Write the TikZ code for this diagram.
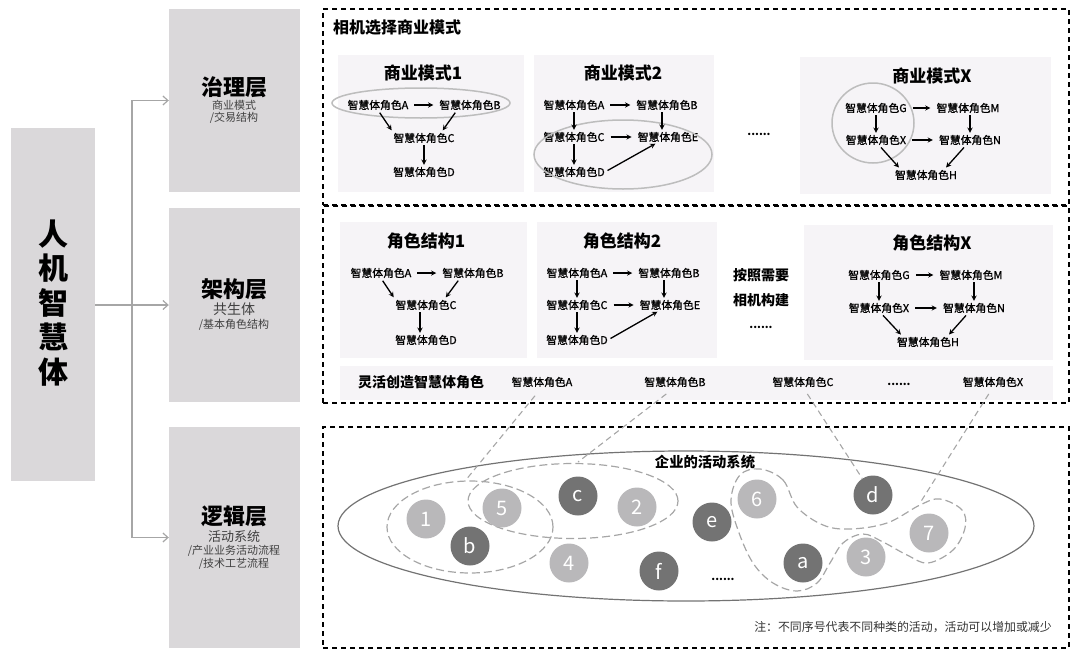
\documentclass[tikz,border=0pt]{standalone}
\usepackage{fontspec}
\setmainfont{Noto Sans CJK SC}
\newfontfamily\rolefont[FakeBold=1]{Noto Sans CJK SC}
\usetikzlibrary{arrows.meta,positioning,shapes.geometric,backgrounds}
\definecolor{panelbg}{HTML}{F6F4F7}
\definecolor{layerbg}{HTML}{DAD8DA}
\definecolor{lightdot}{HTML}{B9B8BA}
\definecolor{darkdot}{HTML}{737373}
\definecolor{lineg}{HTML}{A6A6A6}
\definecolor{ringg}{HTML}{BDBDBD}
\tikzset{
  panel/.style={fill=panelbg,inner sep=0pt},
  layerbox/.style={fill=layerbg,inner sep=0pt},
  frame/.style={draw=black,line width=1.2pt,dash pattern=on 5pt off 4pt,inner sep=0pt},
  role/.style={inner sep=0pt,font=\rolefont\fontsize{10.8}{13}\selectfont},
  strongrole/.style={inner sep=0pt,font=\bfseries\fontsize{14}{16}\selectfont},
  headline/.style={inner sep=0pt,font=\bfseries\fontsize{17}{19}\selectfont},
  layername/.style={inner sep=0pt,font=\bfseries\fontsize{22}{24}\selectfont},
  layersub/.style={inner sep=0pt,text=black!75,font=\fontsize{13}{15}\selectfont},
  layernote/.style={inner sep=0pt,text=black!75,font=\fontsize{11}{13}\selectfont},
  ring/.style={ellipse,draw=ringg,line width=1.5pt,inner sep=0pt},
  dashring/.style={ellipse,draw=lineg,line width=1.2pt,dash pattern=on 8pt off 4pt,inner sep=0pt},
  lightball/.style={circle,fill=lightdot,text=white,minimum size=39pt,inner sep=0pt,font=\fontsize{20}{22}\selectfont},
  darkball/.style={circle,fill=darkdot,text=white,minimum size=39pt,inner sep=0pt,font=\fontsize{20}{22}\selectfont},
  hop/.style={-stealth,line width=1.3pt,shorten <=6pt,shorten >=6pt},
  vhop/.style={-stealth,line width=1.3pt,shorten <=2pt,shorten >=2pt},
  slant/.style={-stealth,line width=1.3pt,shorten <=3pt,shorten >=3pt},
  branch/.style={draw=lineg,line width=1.2pt,-{Straight Barb[length=5pt,width=9pt]}},
  tie/.style={draw=lineg,line width=1.1pt,dash pattern=on 6pt off 4pt}
}
\begin{document}
\begin{tikzpicture}[x=1pt,y=-1pt,on grid]
  \useasboundingbox (0,0) rectangle (1080,659);
  % left column
  \node[layerbox,minimum width=84pt,minimum height=353pt] (brain) at (53,304.5) {};
  \node[layerbox,minimum width=131pt,minimum height=183pt] (govern) at (234.5,100.5) {};
  \node[layerbox,minimum width=131pt,minimum height=194pt] (frameL) at (234.5,305) {};
  \node[layerbox,minimum width=131pt,minimum height=221pt] (logic) at (234.5,537.5) {};
  \node[inner sep=0pt,align=center,font=\bfseries\fontsize{30}{34.5}\selectfont] (braintext) at (53,303) {人\\机\\智\\慧\\体};
  \coordinate (fork) at (132,305);
  \draw[branch] (brain.east |- fork) -- (fork -| frameL.west);
  \draw[branch] (fork) |- (govern.west);
  \draw[branch] (fork) |- (logic.west);
  \node[layername] (govname) at (234,87) {治理层};
  \node[layernote] (govsub) [below=18pt of govname] {商业模式};
  \node[layernote] (govnote) [below=13pt of govsub] {/交易结构};
  \node[layername] (framename) at (234,289) {架构层};
  \node[layersub,font=\fontsize{14}{16}\selectfont] (framesub) [below=20pt of framename] {共生体};
  \node[layernote] (framenote) [below=16pt of framesub] {/基本角色结构};
  \node[layername] (logicname) at (234,516) {逻辑层};
  \node[layersub] (logicsub) [below=21pt of logicname] {活动系统};
  \node[layernote] (logicnote) [below=14pt of logicsub] {/产业业务活动流程};
  \node[layernote] (logictech) [below=13pt of logicnote] {/技术工艺流程};
  % dashed frames
  \node[frame,minimum width=746pt,minimum height=196pt] (topframe) at (696,107) {};
  \node[frame,minimum width=746pt,minimum height=197pt] (midframe) at (696,304.5) {};
  \node[frame,minimum width=746pt,minimum height=221pt] (lowframe) at (696,537.5) {};
  \node[inner sep=0pt,font=\bfseries\fontsize{16}{18}\selectfont] (toptitle) at (397,27) {相机选择商业模式};
  % panels
  \begin{scope}[on background layer]
    \node[panel,minimum width=186pt,minimum height=137pt] (pm1) at (431,123.5) {};
    \node[panel,minimum width=180pt,minimum height=137pt] (pm2) at (624,123.5) {};
    \node[panel,minimum width=251pt,minimum height=137pt] (pmx) at (925.5,125.5) {};
    \node[panel,minimum width=187pt,minimum height=136pt] (ps1) at (433.5,290) {};
    \node[panel,minimum width=180pt,minimum height=136pt] (ps2) at (627,290) {};
    \node[panel,minimum width=249pt,minimum height=135pt] (psx) at (928.5,292.5) {};
    \node[panel,minimum width=713pt,minimum height=34pt] (prow) at (696.5,383) {};
  \end{scope}
  % business model 1
  \node[headline] (m1t) at (423,73) {商业模式1};
  \node[role] (m1a) at (378,105) {智慧体角色A};
  \node[role] (m1b) [right=92pt of m1a] {智慧体角色B};
  \node[role] (m1c) at (424,138) {智慧体角色C};
  \node[role] (m1d) [below=34pt of m1c] {智慧体角色D};
  \node[ring,minimum width=178pt,minimum height=30pt] (m1ring) at (421,103) {};
  \path (m1a) edge[hop] (m1b)
        (m1a.south) edge[slant] (m1c.north west)
        ([xshift=-13pt]m1b.south) edge[slant] ([xshift=17pt]m1c.north)
        (m1c) edge[vhop] (m1d);
  % business model 2
  \node[headline] (m2t) at (623,73) {商业模式2};
  \node[role] (m2a) at (574,105) {智慧体角色A};
  \node[role] (m2b) [right=93pt of m2a] {智慧体角色B};
  \node[role] (m2c) [below=32pt of m2a] {智慧体角色C};
  \node[role] (m2e) [right=94pt of m2c] {智慧体角色E};
  \node[role] (m2d) [below=35pt of m2c] {智慧体角色D};
  \node[ring,minimum width=178pt,minimum height=69pt] (m2ring) at (623,154.5) {};
  \path (m2a) edge[hop] (m2b)
        (m2c) edge[hop] (m2e)
        (m2a) edge[vhop] (m2c)
        (m2c) edge[vhop] (m2d)
        ([xshift=-5pt]m2b.south) edge[vhop] ([xshift=-6pt]m2e.north)
        (m2d.east) edge[slant] ([xshift=-10pt]m2e.south);
  % business model X
  \node[headline] (mxt) at (932,76) {商业模式X};
  \node[role] (mxg) at (876,108) {智慧体角色G};
  \node[role] (mxm) [right=92pt of mxg] {智慧体角色M};
  \node[role] (mxx) [below=32pt of mxg] {智慧体角色X};
  \node[role] (mxn) [right=94pt of mxx] {智慧体角色N};
  \node[role] (mxh) at (926,175) {智慧体角色H};
  \node[ring,minimum width=82pt,minimum height=80pt] (mxring) at (873,123) {};
  \path (mxg) edge[hop] (mxm)
        (mxx) edge[hop] (mxn)
        (mxg) edge[vhop] (mxx)
        ([xshift=2pt]mxm.south) edge[vhop] (mxn.north)
        ([xshift=3pt]mxx.south) edge[slant] ([xshift=-25pt]mxh.north)
        ([xshift=-4pt]mxn.south) edge[slant] ([xshift=18pt]mxh.north);
  \node[inner sep=0pt,font=\bfseries\fontsize{11}{13}\selectfont] (mdots) at (759,134) {......};
  % role structure 1
  \node[headline] (s1t) at (426,241) {角色结构1};
  \node[role] (s1a) at (381,273) {智慧体角色A};
  \node[role] (s1b) [right=92pt of s1a] {智慧体角色B};
  \node[role] (s1c) at (426,305) {智慧体角色C};
  \node[role] (s1d) [below=35pt of s1c] {智慧体角色D};
  \path (s1a) edge[hop] (s1b)
        (s1a.south) edge[slant] (s1c.north west)
        ([xshift=-13pt]s1b.south) edge[slant] ([xshift=18pt]s1c.north)
        ([xshift=-6pt]s1c.south) edge[vhop] ([xshift=-6pt]s1d.north);
  % role structure 2
  \node[headline] (s2t) at (622,241) {角色结构2};
  \node[role] (s2a) at (577,273) {智慧体角色A};
  \node[role] (s2b) [right=92pt of s2a] {智慧体角色B};
  \node[role] (s2c) [below=32pt of s2a] {智慧体角色C};
  \node[role] (s2e) [right=93pt of s2c] {智慧体角色E};
  \node[role] (s2d) [below=35pt of s2c] {智慧体角色D};
  \path (s2a) edge[hop] (s2b)
        (s2c) edge[hop] (s2e)
        (s2a) edge[vhop] (s2c)
        (s2c) edge[vhop] (s2d)
        ([xshift=-5pt]s2b.south) edge[vhop] ([xshift=-6pt]s2e.north)
        (s2d.east) edge[slant] ([xshift=-10pt]s2e.south);
  % role structure X
  \node[headline] (sxt) at (932,243) {角色结构X};
  \node[role] (sxg) at (879,275) {智慧体角色G};
  \node[role] (sxm) [right=92pt of sxg] {智慧体角色M};
  \node[role] (sxx) [below=33pt of sxg] {智慧体角色X};
  \node[role] (sxn) [right=95pt of sxx] {智慧体角色N};
  \node[role] (sxh) at (928,342) {智慧体角色H};
  \path (sxg) edge[hop] (sxm)
        (sxx) edge[hop] (sxn)
        (sxg) edge[vhop] (sxx)
        ([xshift=3pt]sxm.south) edge[vhop] (sxn.north)
        ([xshift=2pt]sxx.south) edge[slant] ([xshift=-25pt]sxh.north)
        ([xshift=-6pt]sxn.south) edge[slant] ([xshift=19pt]sxh.north);
  \node[strongrole] (need) at (761,275) {按照需要};
  \node[strongrole] (build) [below=25pt of need] {相机构建};
  \node[inner sep=0pt,font=\bfseries\fontsize{11}{13}\selectfont] (sdots) [below=27pt of build] {......};
  % flexible roles row
  \node[strongrole] (rowt) at (421,382) {灵活创造智慧体角色};
  \node[role] (rowa) at (542,382) {智慧体角色A};
  \node[role] (rowb) [right=133pt of rowa] {智慧体角色B};
  \node[role] (rowc) [right=128pt of rowb] {智慧体角色C};
  \node[inner sep=0pt,font=\bfseries\fontsize{11}{13}\selectfont] (rowdots) at (899,384) {......};
  \node[role] (rowx) [right=190pt of rowc] {智慧体角色X};
  % activity system
  \node[ellipse,draw=black!55,line width=1.2pt,minimum width=696pt,minimum height=150pt,inner sep=0pt] (sysring) at (686,526) {};
  \node[strongrole,font=\bfseries\fontsize{14.3}{16}\selectfont] (systitle) at (705,462) {企业的活动系统};
  \node[dashring,minimum width=166pt,minimum height=92pt] (grpa) at (470,527) {};
  \node[dashring,minimum width=210pt,minimum height=75pt] (grpb) at (573,501) {};
  \draw[draw=lineg,line width=1.2pt,dash pattern=on 8pt off 4pt] plot[smooth cycle,tension=0.6] coordinates {(760,469) (783,480) (797,507) (823,525) (850,529) (887,523) (920,505) (940,499) (962,510) (965,528) (953,550) (928,563) (907,555) (883,542) (863,534) (843,543) (830,563) (817,583) (797,591) (773,583) (753,563) (738,530) (731,500) (740,475)};
  \node[lightball] (n1) at (426,519) {1};
  \node[lightball] (n5) at (502,508) {5};
  \node[darkball] (nb) at (470,546) {b};
  \node[darkball] (nc) at (578,496) {c};
  \node[lightball] (n2) at (637,507) {2};
  \node[lightball] (n4) at (569,563) {4};
  \node[darkball] (nf) at (659,571) {f};
  \node[darkball] (ne) at (712,522) {e};
  \node[lightball] (n6) at (757,499) {6};
  \node[darkball] (na) at (803,563) {a};
  \node[darkball] (nd) at (873,495) {d};
  \node[lightball] (n3) at (866,557) {3};
  \node[lightball] (n7) at (929,533) {7};
  \node[inner sep=0pt,font=\bfseries\fontsize{11}{13}\selectfont] (sysdots) at (723,579) {......};
  \node[inner sep=0pt,text=black!80,font=\fontsize{11.9}{14}\selectfont] (sysnote) at (903,627) {注：不同序号代表不同种类的活动，活动可以增加或减少};
  % ties from roles down to activities
  \coordinate (tiea) at (465,481);
  \coordinate (tieb) at (578,462);
  \coordinate (tiex) at (920,503);
  \draw[tie,shorten <=11pt] (rowa.south) -- (tiea);
  \draw[tie,shorten <=11pt] (rowb.south) -- (tieb);
  \draw[tie,shorten <=8pt] (rowc.south) -- (nd);
  \draw[tie,shorten <=8pt] (rowx.south) -- (tiex);
\end{tikzpicture}
\end{document}
